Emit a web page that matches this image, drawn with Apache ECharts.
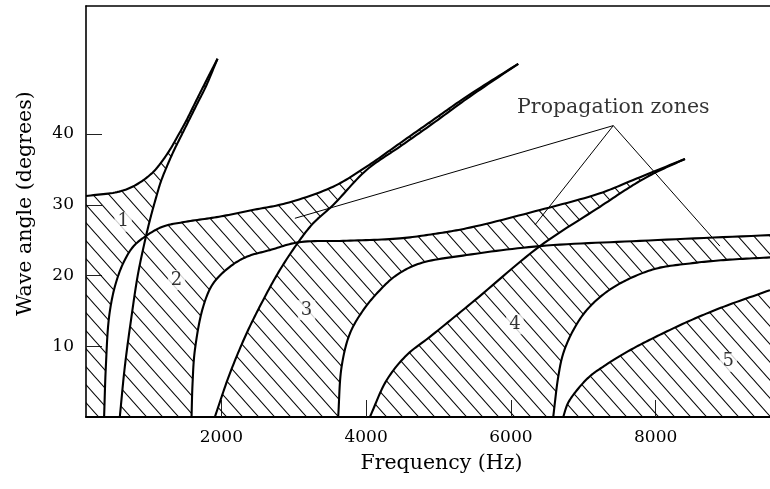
<!DOCTYPE html>
<html>
<head>
<meta charset="utf-8">
<script src="https://cdn.jsdelivr.net/npm/echarts@6/dist/echarts.min.js"></script>
<style>
  html, body { margin: 0; padding: 0; background: #fff; }
  #chart { width: 770px; height: 489px; }
</style>
</head>
<body>
<div id="chart"></div>
<script>
// Axis ranges and tick labels
const F_MIN = 130, F_MAX = 9580;
const A_MIN = 0, A_MAX = 58.1;
const xTicks = [2000, 4000, 6000, 8000];
const yTicks = [10, 20, 30, 40];

// Crossing points shared by two boundary curves [frequency Hz, angle deg]
const q1 = [960, 25.6];
const q2 = [3061, 24.69];
const q3 = [6402, 24.16];

// Boundary curves, [frequency Hz, wave angle deg], ordered by frequency
const u0 = [[130, 31.24], [588, 31.86], [818, 32.80], [1049, 34.54], [1187, 36.24], [1302, 37.99],
            [1394, 39.64], [1509, 41.76], [1647, 44.60], [1786, 47.43], [1947, 50.64]];
const s1 = [[597, 0], [666, 7.08], [758, 14.16], [850, 20.30], q1, [1025, 28.32], [1095, 30.91],
            [1164, 33.27], [1256, 35.63], [1348, 37.75], [1440, 39.64], [1555, 42.00],
            [1670, 44.36], [1786, 46.72], [1947, 50.64]];
const u1 = [[380, 0], [404, 7.08], [449, 14.16], [528, 18.40], [643, 21.72], [781, 24.07], q1,
            [1187, 26.90], [1509, 27.60], [1969, 28.31], [2431, 29.26], [2891, 30.21],
            [3545, 32.56], [4006, 35.39], [4467, 38.70], [4927, 42.00], [5388, 45.30], [6102, 49.93]];
const s2 = [[1910, 0], [2117, 6.14], [2348, 11.80], [2577, 16.52], [2808, 20.77], q2,
            [3268, 27.38], [3545, 29.97], [4006, 34.92], [4467, 38.22], [4927, 41.53],
            [5388, 44.97], [6102, 49.93]];
const u2 = [[1588, 0], [1602, 4.72], [1634, 9.44], [1748, 15.56], [1886, 18.86], [2117, 21.23],
            [2348, 22.64], [2669, 23.59], q2, [3730, 24.91], [4467, 25.25], [4927, 25.86],
            [5388, 26.67], [6401, 29.26], [7230, 31.62], [7691, 33.51], [8405, 36.48]];
const s3 = [[4052, 0], [4283, 5.19], [4559, 8.73], [4881, 11.33], [5504, 16.52], q3,
            [7231, 29.72], [7691, 32.80], [7967, 34.40], [8405, 36.48]];
const u3 = [[3614, 0], [3661, 7.08], [3776, 11.80], [3960, 15.10], [4190, 17.93], [4421, 20.06],
            [4743, 21.71], [5388, 22.89], q3, [7784, 24.90], [9580, 25.71]];
const u4 = [[6585, 0], [6654, 5.66], [6723, 8.97], [6862, 12.27], [7047, 15.10], [7323, 17.69],
            [7645, 19.59], [8014, 21.00], [8475, 21.71], [8935, 22.18], [9580, 22.56]];
const s4 = [[6723, 0], [6788, 1.94], [6912, 3.78], [7092, 5.76], [7327, 7.46], [7645, 9.44],
            [7991, 11.28], [8475, 13.62], [8935, 15.57], [9580, 17.93]];

// Zone numbers and where they sit
const zoneNames = ['1', '2', '3', '4', '5'];
const zoneLabelPos = [[643, 27.6], [1381, 19.35], [3177, 15.1], [6056, 13.1], [9004, 7.8]];

// "Propagation zones" callout: text anchor, pointer apex and pointer targets
const calloutText = 'Propagation zones';
const calloutPos = [7415, 43.66];
const calloutApex = [7415, 41.19];
const calloutTargets = [[3016, 28.09], [6332, 27.14], [8888, 24.16]];

const FONT = 'DejaVu Serif';
const INK = '#000';
const curves = [u0, s1, u1, s2, u2, s3, u3, u4, s4];

// Diagonal hatching tile
function makeHatch() {
  const w = 16, h = 18;
  const c = document.createElement('canvas');
  c.width = w; c.height = h;
  const g = c.getContext('2d');
  g.strokeStyle = '#000';
  g.lineWidth = 1.05;
  for (let k = -1; k <= 1; k++) {
    g.beginPath();
    g.moveTo(k * w - w, -h);
    g.lineTo(k * w + 2 * w, 2 * h);
    g.stroke();
  }
  return c;
}
const hatch = { image: makeHatch(), repeat: 'repeat' };

// Centripetal Catmull-Rom through pixel points, returned as a dense polyline
function smoothPts(pts, steps) {
  const n = pts.length;
  if (n < 3) return pts.slice();
  const dist = (a, b) => Math.hypot(a[0] - b[0], a[1] - b[1]);
  const get = i => i < 0 ? [2 * pts[0][0] - pts[1][0], 2 * pts[0][1] - pts[1][1]]
    : i >= n ? [2 * pts[n - 1][0] - pts[n - 2][0], 2 * pts[n - 1][1] - pts[n - 2][1]]
    : pts[i];
  const out = [pts[0]];
  for (let i = 0; i < n - 1; i++) {
    const p0 = get(i - 1), p1 = pts[i], p2 = pts[i + 1], p3 = get(i + 2);
    const d1 = Math.sqrt(dist(p0, p1)) || 1e-6;
    const d2 = Math.sqrt(dist(p1, p2)) || 1e-6;
    const d3 = Math.sqrt(dist(p2, p3)) || 1e-6;
    const b1 = [0, 1].map(k => (d1 * d1 * p2[k] - d2 * d2 * p0[k] + (2 * d1 * d1 + 3 * d1 * d2 + d2 * d2) * p1[k]) / (3 * d1 * (d1 + d2)));
    const b2 = [0, 1].map(k => (d3 * d3 * p1[k] - d2 * d2 * p3[k] + (2 * d3 * d3 + 3 * d3 * d2 + d2 * d2) * p2[k]) / (3 * d3 * (d3 + d2)));
    for (let s = 1; s <= steps; s++) {
      const t = s / steps, u = 1 - t;
      out.push([0, 1].map(k => u * u * u * p1[k] + 3 * u * u * t * b1[k] + 3 * u * t * t * b2[k] + t * t * t * p2[k]));
    }
  }
  return out;
}

function denseCurve(api, curve) {
  return smoothPts(curve.map(p => api.coord(p)), 14);
}

// Portion of a curve between two frequencies (null = open end)
function part(api, curve, lo, hi, reverse) {
  const pts = denseCurve(api, curve);
  const xl = lo == null ? -Infinity : api.coord([lo, 0])[0] - 0.01;
  const xh = hi == null ? Infinity : api.coord([hi, 0])[0] + 0.01;
  const r = pts.filter(p => p[0] >= xl && p[0] <= xh);
  return reverse ? r.reverse() : r;
}

// Outline of each hatched zone, built from the boundary curves
const zoneOutlines = [
  api => [api.coord([F_MIN, 0])]
    .concat(part(api, u1, null, q1[0]), part(api, s1, q1[0], null), part(api, u0, null, null, true)),
  api => [].concat(part(api, u2, null, q2[0]), part(api, s2, q2[0], null),
    part(api, u1, q1[0], null, true), part(api, s1, null, q1[0], true)),
  api => [].concat(part(api, u3, null, q3[0]), part(api, s3, q3[0], null),
    part(api, u2, q2[0], null, true), part(api, s2, null, q2[0], true)),
  api => [].concat(part(api, u4, null, null), part(api, u3, q3[0], null, true),
    part(api, s3, null, q3[0], true)),
  api => part(api, s4, null, null).concat([api.coord([F_MAX, 0])])
];

const chart = echarts.init(document.getElementById('chart'), null, { renderer: 'canvas' });

chart.setOption({
  animation: false,
  backgroundColor: '#fff',
  grid: { left: 86, right: 0, top: 6, bottom: 72, containLabel: false, outerBoundsMode: 'none' },
  xAxis: [{
    type: 'value', min: F_MIN, max: F_MAX, position: 'bottom',
    name: 'Frequency (Hz)', nameLocation: 'middle', nameGap: 36,
    nameTextStyle: { fontFamily: FONT, fontSize: 20.5, color: INK, padding: [0, 0, 0, 27] },
    axisLine: { show: true, onZero: false, lineStyle: { color: '#000', width: 2 } },
    axisTick: { show: true, inside: true, length: 17, customValues: xTicks, lineStyle: { color: '#222', width: 1 } },
    axisLabel: { show: true, margin: 12, customValues: xTicks, formatter: v => String(v),
      fontFamily: FONT, fontSize: 17, color: INK },
    splitLine: { show: false }
  }, {
    type: 'value', min: F_MIN, max: F_MAX, position: 'top',
    axisLine: { show: true, onZero: false, lineStyle: { color: '#000', width: 1.6 } },
    axisTick: { show: false }, axisLabel: { show: false }, splitLine: { show: false }
  }],
  yAxis: {
    type: 'value', min: A_MIN, max: A_MAX,
    name: 'Wave angle (degrees)', nameLocation: 'middle', nameGap: 50, nameRotate: 90,
    nameTextStyle: { fontFamily: FONT, fontSize: 20.5, color: INK, padding: [0, 0, 0, 16] },
    axisLine: { show: true, onZero: false, lineStyle: { color: '#000', width: 1.6 } },
    axisTick: { show: true, inside: true, length: 16, customValues: yTicks, lineStyle: { color: '#222', width: 1 } },
    axisLabel: { show: true, margin: 12, customValues: yTicks, fontFamily: FONT, fontSize: 17, color: INK },
    splitLine: { show: false }
  },
  series: [
    {
      // hatched propagation zones
      type: 'custom', z: 1, silent: true,
      data: zoneOutlines.map(() => [F_MIN, 0]),
      renderItem: (params, api) => ({
        type: 'polygon',
        shape: { points: zoneOutlines[params.dataIndex](api) },
        style: { fill: hatch, stroke: null }
      })
    },
    {
      // boundary curves
      type: 'custom', z: 3, silent: true,
      data: curves.map(() => [F_MIN, 0]),
      renderItem: (params, api) => ({
        type: 'polyline',
        shape: { points: denseCurve(api, curves[params.dataIndex]) },
        style: { stroke: '#000', lineWidth: 2.1, fill: null, lineJoin: 'round' }
      })
    },
    {
      // callout pointers
      type: 'custom', z: 4, silent: true,
      data: calloutTargets.map(t => [calloutApex[0], calloutApex[1], t[0], t[1]]),
      renderItem: (params, api) => {
        const a = api.coord([api.value(0), api.value(1)]);
        const b = api.coord([api.value(2), api.value(3)]);
        return { type: 'line', shape: { x1: a[0], y1: a[1], x2: b[0], y2: b[1] },
          style: { stroke: '#000', lineWidth: 1 } };
      }
    },
    {
      // zone numbers
      type: 'scatter', z: 5, silent: true, symbolSize: 0,
      data: zoneLabelPos.map((p, i) => [p[0], p[1], zoneNames[i]]),
      label: { show: true, position: 'inside', formatter: p => p.value[2],
        fontFamily: FONT, fontSize: 18, color: INK, backgroundColor: '#fff', padding: [1, 3] }
    },
    {
      // callout text
      type: 'scatter', z: 5, silent: true, symbolSize: 0,
      data: [[calloutPos[0], calloutPos[1], calloutText]],
      label: { show: true, position: 'inside', formatter: p => p.value[2],
        fontFamily: FONT, fontSize: 20.5, color: INK }
    }
  ]
});
</script>
</body>
</html>
